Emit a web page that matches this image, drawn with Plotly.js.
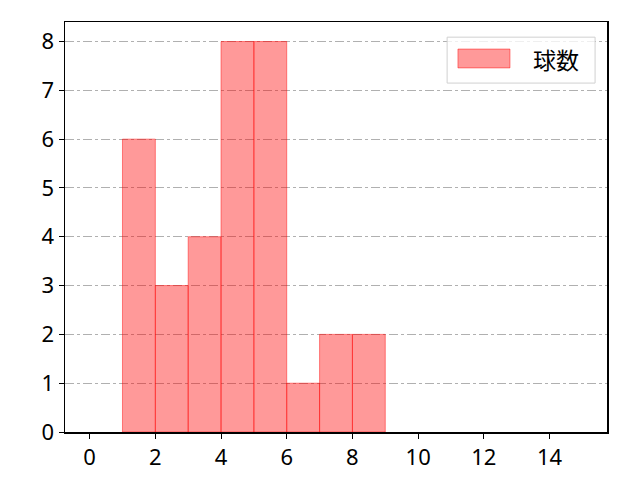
<!DOCTYPE html>
<html>
<head>
<meta charset="utf-8">
<script src="https://cdn.plot.ly/plotly-3.0.1.min.js"></script>
<style>body{margin:0;padding:0;background:#fff}</style>
</head>
<body>
<div id="plot" style="width:640px;height:480px"></div>
<script>
// histogram bins (left edges) and counts
var binStarts = [1, 2, 3, 4, 5, 6, 7, 8];
var counts = [6, 3, 4, 8, 8, 1, 2, 2];
var seriesName = '球数';
var xTicks = [0, 2, 4, 6, 8, 10, 12, 14];
var yTicks = [0, 1, 2, 3, 4, 5, 6, 7, 8];

var font = '"Noto Sans", "Noto Sans CJK JP", sans-serif';
var fill = 'rgba(255,0,0,0.4)';
var edge = 'rgba(255,0,0,0.45)';
var tickFont = { family: font, size: 22, color: '#000' };

var bars = {
    x: binStarts.map(function (b) { return b + 0.5; }),
    y: counts,
    width: binStarts.map(function () { return 1; }),
    type: 'bar',
    name: seriesName,
    marker: { color: fill, line: { color: edge, width: 1 } },
    showlegend: false
};

// hand-made legend so the swatch can be wide like matplotlib's
var shapes = [
    { type: 'rect', xref: 'paper', yref: 'paper', x0: 0.705, x1: 0.978, y0: 0.851, y1: 0.963,
      line: { color: '#d0d0d0', width: 1 }, fillcolor: 'rgba(255,255,255,0.8)', layer: 'above' },
    { type: 'rect', xref: 'paper', yref: 'paper', x0: 0.725, x1: 0.821, y0: 0.888, y1: 0.934,
      line: { color: edge, width: 1 }, fillcolor: fill, layer: 'above' }
];
var annotations = [
    { xref: 'paper', yref: 'paper', x: 0.905, y: 0.91, text: seriesName, showarrow: false,
      xanchor: 'center', yanchor: 'middle',
      font: { family: '"Noto Sans CJK JP", sans-serif', size: 23, color: '#000' } }
];

var layout = {
    width: 640,
    height: 480,
    margin: { l: 65, r: 33, t: 22, b: 48 },
    paper_bgcolor: '#fff',
    plot_bgcolor: '#fff',
    font: { family: font, size: 20, color: '#000' },
    showlegend: false,
    bargap: 0,
    shapes: shapes,
    annotations: annotations,
    xaxis: {
        range: [-0.75, 15.75],
        tickvals: xTicks,
        tickfont: tickFont,
        ticks: 'outside',
        ticklen: 5,
        tickcolor: '#000',
        showgrid: false,
        zeroline: false,
        showline: true,
        linecolor: '#000',
        linewidth: 1.5,
        mirror: true
    },
    yaxis: {
        range: [0, 8.4],
        tickvals: yTicks,
        tickfont: tickFont,
        ticks: 'outside',
        ticklen: 5,
        tickcolor: '#000',
        showgrid: true,
        gridcolor: '#b0b0b0',
        griddash: 'dashdot',
        gridwidth: 1,
        zeroline: false,
        showline: true,
        linecolor: '#000',
        linewidth: 1.5,
        mirror: true
    }
};

Plotly.newPlot('plot', [bars], layout, { staticPlot: true });
</script>
</body>
</html>
